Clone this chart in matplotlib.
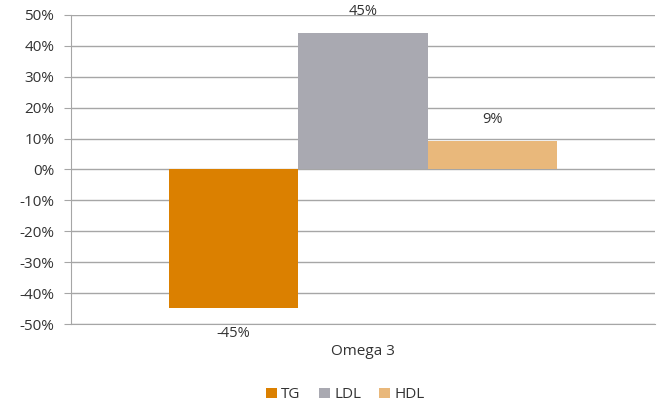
import matplotlib.pyplot as plt
from matplotlib.patches import Patch

plt.rcParams['font.family'] = ['Open Sans', 'DejaVu Sans']

series = ['TG', 'LDL', 'HDL']
values = [-0.447, 0.443, 0.092]
labels = ['-45%', '45%', '9%']
colors = ['#DB8000', '#A9A9B1', '#E9B87B']
yticks = [-0.5, -0.4, -0.3, -0.2, -0.1, 0, 0.1, 0.2, 0.3, 0.4, 0.5]
category = 'Omega 3'

fig = plt.figure(figsize=(6.58, 4.05), dpi=100)
ax = fig.add_axes([0.108, 0.2, 0.887, 0.763])

w = 0.222
offsets = [-w, 0, w]
for off, v, c, lab in zip(offsets, values, colors, labels):
    ax.bar(off, v, width=w, color=c, zorder=3)
    if v < 0:
        ax.text(off, v - 0.06, lab, ha='center', va='top', fontsize=10.5, color='#333333')
    else:
        ax.text(off, v + 0.045, lab, ha='center', va='bottom', fontsize=10.5, color='#333333')

ax.set_xlim(-0.5, 0.5)
ax.set_ylim(-0.5, 0.5)
ax.set_yticks(yticks)
ax.set_yticklabels([f'{round(t * 100)}%' for t in yticks], fontsize=11, color='#333333')
ax.grid(axis='y', color='#A6A6A6', linewidth=1, zorder=0)
ax.set_xticks([])
for s in ['top', 'right']:
    ax.spines[s].set_visible(False)
ax.spines['left'].set_color('#A6A6A6')
ax.spines['bottom'].set_color('#A6A6A6')
ax.tick_params(axis='y', length=5, color='#A6A6A6', pad=7)

ax.text(0.5, -0.09, category, transform=ax.transAxes, ha='center', va='center',
        fontsize=11, color='#333333')

handles = [Patch(facecolor=c, label=s) for c, s in zip(colors, series)]
fig.legend(handles=handles, loc='center', bbox_to_anchor=(0.525, 0.025), ncol=3,
           frameon=False, fontsize=11, handlelength=0.7, handleheight=0.7,
           handletextpad=0.3, columnspacing=1.2, labelcolor='#333333')

fig.savefig('out.png', dpi=100)
